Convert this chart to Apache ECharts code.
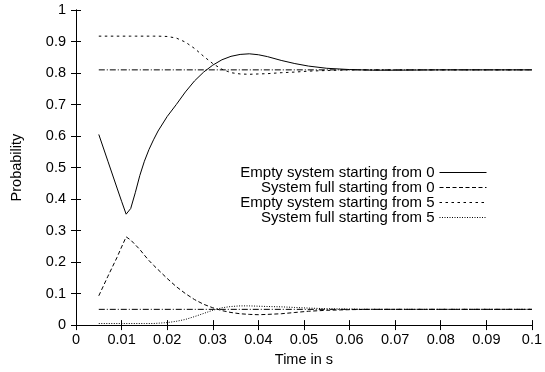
<!DOCTYPE html>
<html>
<head>
<meta charset="utf-8">
<script src="https://cdn.jsdelivr.net/npm/echarts@6/dist/echarts.min.js"></script>
<style>html,body{margin:0;padding:0;background:#fff;}#c{width:545px;height:372px;}</style>
</head>
<body>
<div id="c"></div>
<script>
var times = [0.005,0.007,0.009,0.010,0.011,0.012,0.013,0.014,0.015,0.016,0.017,0.018,0.020,0.022,0.024,0.026,0.028,0.030,0.032,0.034,0.036,0.038,0.040,0.042,0.045,0.048,0.051,0.055,0.060,0.065,0.070,0.080,0.090,0.100];
var emptyFrom0 = [0.605,0.52,0.435,0.393,0.352,0.37,0.42,0.475,0.52,0.557,0.588,0.616,0.662,0.70,0.74,0.775,0.803,0.825,0.842,0.853,0.859,0.861,0.858,0.852,0.84,0.83,0.822,0.815,0.811,0.809,0.809,0.81,0.81,0.81];
var fullFrom0 = [0.093,0.155,0.215,0.248,0.28,0.27,0.255,0.24,0.222,0.205,0.19,0.176,0.148,0.122,0.10,0.081,0.066,0.055,0.046,0.04,0.036,0.034,0.033,0.034,0.036,0.04,0.044,0.047,0.049,0.05,0.05,0.05,0.05,0.05];
var emptyFrom5 = [0.917,0.917,0.917,0.917,0.917,0.917,0.917,0.917,0.917,0.917,0.917,0.917,0.916,0.911,0.898,0.878,0.853,0.83,0.812,0.801,0.797,0.796,0.797,0.798,0.801,0.803,0.806,0.808,0.81,0.81,0.81,0.81,0.81,0.81];
var fullFrom5 = [0.005,0.005,0.005,0.005,0.005,0.005,0.005,0.005,0.005,0.005,0.005,0.006,0.008,0.012,0.018,0.027,0.037,0.047,0.055,0.059,0.061,0.061,0.06,0.059,0.058,0.056,0.054,0.052,0.051,0.05,0.05,0.05,0.05,0.05];
var refTimes = [0.005, 0.1];
var refHigh = [0.81, 0.81];
var refLow = [0.05, 0.05];
var names = ['Empty system starting from 0','System full starting from 0','Empty system starting from 5','System full starting from 5'];
var xTicks = ['0','0.01','0.02','0.03','0.04','0.05','0.06','0.07','0.08','0.09','0.1'];
var yTicks = ['0','0.1','0.2','0.3','0.4','0.5','0.6','0.7','0.8','0.9','1'];

function pairs(xs, ys){ return xs.map(function(x,i){return [x, ys[i]];}); }
var FONT = 'Liberation Sans, Arial, Helvetica, sans-serif';
var FS = 14.5;
function mkSeries(name, xs, ys, dash){
  return {name: name, type:'line', data: pairs(xs, ys), symbol:'none', showSymbol:false,
    lineStyle:{color:'#000', width:1, type: dash}, itemStyle:{color:'#000'}, silent:true, animation:false, z: 3};
}
var chart = echarts.init(document.getElementById('c'), null, {renderer:'canvas'});
var axisCommon = {
  type:'value', axisLine:{show:true, lineStyle:{color:'#000', width:1}},
  axisTick:{show:true, inside:true, length:5, lineStyle:{color:'#000', width:1}},
  splitLine:{show:false}
};
chart.setOption({
  animation:false,
  backgroundColor:'#fff',
  grid:{left:76, right:9, top:10, bottom:39, containLabel:false},
  legend:{
    data: names, orient:'vertical', align:'right', right:58, top:165,
    itemWidth:47, itemHeight:14, itemGap:0,
    itemStyle:{opacity:0},
    lineStyle:{width:1},
    textStyle:{fontFamily:FONT, fontSize:15, color:'#000', lineHeight:14.5},
    selectedMode:false, padding:0
  },
  xAxis:[
    Object.assign({}, axisCommon, {min:0, max:0.1, interval:0.01, position:'bottom',
      name:'Time in s', nameLocation:'middle', nameGap:21,
      nameTextStyle:{fontFamily:FONT, fontSize:FS, color:'#000'},
      axisLabel:{fontFamily:FONT, fontSize:FS, color:'#000', margin:7,
        formatter:function(v){ return xTicks[Math.round(v*100)]; }}}),
    Object.assign({}, axisCommon, {min:0, max:0.1, interval:0.01, position:'top', axisLabel:{show:false}})
  ],
  yAxis:[
    Object.assign({}, axisCommon, {min:0, max:1, interval:0.1, position:'left',
      name:'Probability', nameLocation:'middle', nameGap:52, nameRotate:90,
      nameTextStyle:{fontFamily:FONT, fontSize:FS, color:'#000'},
      axisLabel:{fontFamily:FONT, fontSize:FS, color:'#000', margin:10,
        formatter:function(v){ return yTicks[Math.round(v*10)]; }}}),
    Object.assign({}, axisCommon, {min:0, max:1, interval:0.1, position:'right', axisLabel:{show:false}})
  ],
  series:[
    mkSeries(names[0], times, emptyFrom0, 'solid'),
    mkSeries(names[1], times, fullFrom0, [4,2.5]),
    mkSeries(names[2], times, emptyFrom5, [2.5,3.5]),
    mkSeries(names[3], times, fullFrom5, [1,1.5]),
    mkSeries('ref1', refTimes, refHigh, [6,2,1,2]),
    mkSeries('ref2', refTimes, refLow, [6,2,1,2])
  ]
});
</script>
</body>
</html>
